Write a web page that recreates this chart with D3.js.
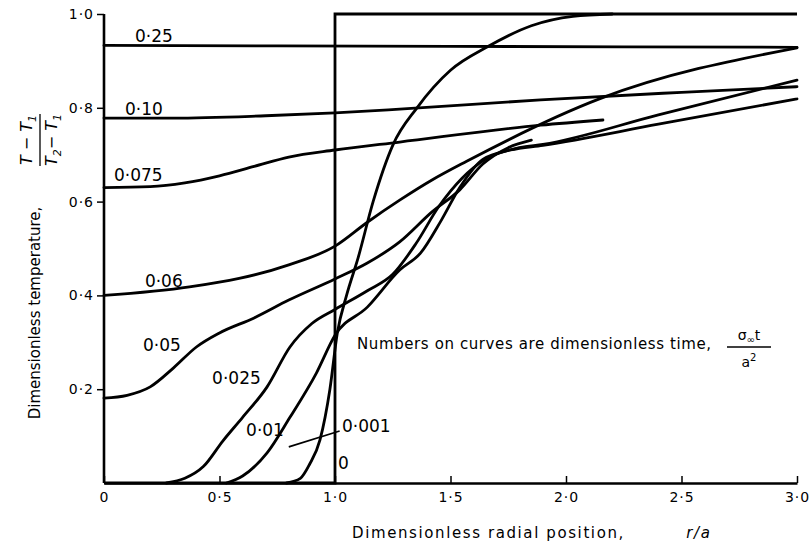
<!DOCTYPE html>
<html>
<head>
<meta charset="utf-8">
<script src="https://cdnjs.cloudflare.com/ajax/libs/d3/7.8.5/d3.min.js"></script>
<style>
body { margin: 0; background: #fff; }
text { font-family: "DejaVu Sans", sans-serif; fill: #000; }
</style>
</head>
<body>
<div id="chart"></div>
<script>
var xTicks = [0, 0.5, 1.0, 1.5, 2.0, 2.5, 3.0];
var xTickLabels = ['0', '0·5', '1·0', '1·5', '2·0', '2·5', '3·0'];
var yTicks = [0.2, 0.4, 0.6, 0.8, 1.0];
var yTickLabels = ['0·2', '0·4', '0·6', '0·8', '1·0'];

// curves, [r/a, (T-T1)/(T2-T1)]
var t0 = [[0, 0], [1, 0], [1, 1], [3, 1]];
var t0001 = [[0.79, 0], [0.85, 0.01], [0.89, 0.04], [0.935, 0.092], [0.978, 0.2], [1.01, 0.32],
  [1.05, 0.40], [1.1, 0.48], [1.165, 0.60], [1.25, 0.72], [1.355, 0.80], [1.5, 0.88],
  [1.66, 0.93], [1.85, 0.975], [2.03, 0.995], [2.2, 1.0]];
var t001 = [[0.53, 0], [0.6, 0.015], [0.706, 0.064], [0.805, 0.14], [0.92, 0.235], [1.0, 0.315],
  [1.14, 0.375], [1.28, 0.454], [1.37, 0.49], [1.46, 0.56], [1.54, 0.63], [1.64, 0.69],
  [1.76, 0.71], [1.9, 0.72], [2.4, 0.765], [3.0, 0.819]];
var t0025 = [[0.27, 0], [0.35, 0.01], [0.43, 0.035], [0.515, 0.09], [0.6, 0.14], [0.706, 0.205],
  [0.805, 0.29], [0.9, 0.34], [1.0, 0.37], [1.14, 0.41], [1.25, 0.445], [1.35, 0.51],
  [1.45, 0.59], [1.55, 0.65], [1.65, 0.69], [1.8, 0.715], [1.9, 0.722], [2.4, 0.785], [3.0, 0.859]];
var t005 = [[0, 0.181], [0.1, 0.187], [0.2, 0.205], [0.3, 0.245], [0.4, 0.29], [0.5, 0.32],
  [0.65, 0.352], [0.8, 0.39], [1.0, 0.435], [1.14, 0.469], [1.28, 0.514], [1.42, 0.578],
  [1.54, 0.625], [1.64, 0.68], [1.75, 0.715], [1.85, 0.731]];
var t006 = [[0, 0.40], [0.37, 0.418], [0.8, 0.465], [1.0, 0.505], [1.14, 0.556], [1.28, 0.603],
  [1.42, 0.646], [1.57, 0.686], [2.15, 0.82], [3.0, 0.928]];
var t0075 = [[0, 0.63], [0.2, 0.632], [0.35, 0.64], [0.5, 0.655], [0.65, 0.675], [0.8, 0.695],
  [1.0, 0.71], [1.28, 0.727], [1.89, 0.763], [2.16, 0.774]];
var t010 = [[0, 0.778], [0.3, 0.778], [0.7, 0.783], [1.0, 0.789], [1.28, 0.797], [1.89, 0.817],
  [2.5, 0.833], [3.0, 0.845]];
var t025 = [[0, 0.933], [1.5, 0.931], [3.0, 0.929]];

var curveLabels = ['0', '0·001', '0·01', '0·025', '0·05', '0·06', '0·075', '0·10', '0·25'];
var curveData = [t0, t0001, t001, t0025, t005, t006, t0075, t010, t025];

// where each label sits, in data units (left, baseline)
var labelPos = [[1.013, 0.030], [1.03, 0.109], [0.615, 0.10], [0.468, 0.211], [0.169, 0.281],
  [0.177, 0.418], [0.043, 0.644], [0.091, 0.785], [0.134, 0.940]];

var width = 812, height = 546;
var xS = d3.scaleLinear().domain([0, 3]).range([104, 797]);
var yS = d3.scaleLinear().domain([0, 1]).range([483, 14]);

var svg = d3.select('#chart').append('svg')
  .attr('width', width)
  .attr('height', height)
  .style('background', '#fff');

var line = d3.line()
  .x(function(d) { return xS(d[0]); })
  .y(function(d) { return yS(d[1]); })
  .curve(d3.curveMonotoneX);

// x axis, ticks point up into the plot
var xAxis = svg.append('g')
  .attr('transform', 'translate(0,' + yS(0) + ')')
  .call(d3.axisBottom(xS).tickValues(xTicks).tickSize(-7).tickSizeOuter(0)
    .tickFormat(function(d, i) { return xTickLabels[i]; }));
xAxis.select('.domain').attr('stroke-width', 2.6);
xAxis.selectAll('.tick line').attr('stroke-width', 1.5);
xAxis.selectAll('text').attr('y', 9).style('font-size', '14px').style('letter-spacing', '1px');

var yAxis = svg.append('g')
  .attr('transform', 'translate(' + xS(0) + ',0)')
  .call(d3.axisLeft(yS).tickValues(yTicks).tickSize(7).tickSizeOuter(0)
    .tickFormat(function(d, i) { return yTickLabels[i]; }));
yAxis.select('.domain').attr('d', 'M0,' + yS(0) + 'V' + yS(1)).attr('stroke-width', 2.6);
yAxis.selectAll('.tick line').attr('stroke-width', 1.5);
yAxis.selectAll('text').attr('x', -10).style('font-size', '14px').style('letter-spacing', '1px');

// the step at t = 0 is straight segments
svg.append('path')
  .attr('d', d3.line().x(function(d) { return xS(d[0]); }).y(function(d) { return yS(d[1]); })(t0))
  .attr('fill', 'none').attr('stroke', '#000').attr('stroke-width', 2.8);

svg.selectAll('path.curve')
  .data(curveData.slice(1))
  .enter()
  .append('path')
  .attr('class', 'curve')
  .attr('d', line)
  .attr('fill', 'none')
  .attr('stroke', '#000')
  .attr('stroke-width', 2.8)
  .attr('stroke-linecap', 'round');

svg.selectAll('text.clab')
  .data(curveLabels)
  .enter()
  .append('text')
  .attr('class', 'clab')
  .attr('x', function(d, i) { return xS(labelPos[i][0]); })
  .attr('y', function(d, i) { return yS(labelPos[i][1]); })
  .style('font-size', '17px')
  .text(function(d) { return d; });

// pointer for 0.001
svg.append('line')
  .attr('x1', xS(0.80)).attr('y1', yS(0.077))
  .attr('x2', xS(1.02)).attr('y2', yS(0.111))
  .attr('stroke', '#000').attr('stroke-width', 1.6);

// note
svg.append('text')
  .attr('x', 357).attr('y', 349)
  .style('font-size', '15px')
  .style('letter-spacing', '0.6px')
  .text('Numbers on curves are dimensionless time,');
var frac = svg.append('g').attr('transform', 'translate(749,0)');
frac.append('text').attr('y', 340).attr('text-anchor', 'middle').style('font-size', '14px')
  .html('σ<tspan font-size="10px" dy="3">∞</tspan><tspan dy="-3">t</tspan>');
frac.append('line').attr('x1', -22).attr('x2', 22).attr('y1', 347).attr('y2', 347)
  .attr('stroke', '#000').attr('stroke-width', 1.3);
frac.append('text').attr('y', 367).attr('text-anchor', 'middle').style('font-size', '14px')
  .html('a<tspan font-size="10px" dy="-6">2</tspan>');

// axis titles
svg.append('text')
  .attr('x', 352).attr('y', 538)
  .style('font-size', '15px')
  .style('letter-spacing', '1.6px')
  .html('Dimensionless radial position, <tspan dx="55" font-style="italic">r/a</tspan>');

svg.append('text')
  .attr('transform', 'translate(40,' + 313 + ') rotate(-90)')
  .attr('text-anchor', 'middle')
  .style('font-size', '15px')
  .text('Dimensionless temperature,');

var yf = svg.append('g').attr('transform', 'translate(40,140) rotate(-90)');
yf.append('text').attr('y', -8).attr('text-anchor', 'middle').style('font-size', '16px')
  .style('font-style', 'italic')
  .html('T − T<tspan font-size="11px" dy="4">1</tspan>');
yf.append('line').attr('x1', -26).attr('x2', 26).attr('y1', 0).attr('y2', 0)
  .attr('stroke', '#000').attr('stroke-width', 1.3);
yf.append('text').attr('y', 17).attr('text-anchor', 'middle').style('font-size', '16px')
  .style('font-style', 'italic')
  .html('T<tspan font-size="11px" dy="4">2</tspan><tspan dy="-4">− T</tspan><tspan font-size="11px" dy="4">1</tspan>');
</script>
</body>
</html>
